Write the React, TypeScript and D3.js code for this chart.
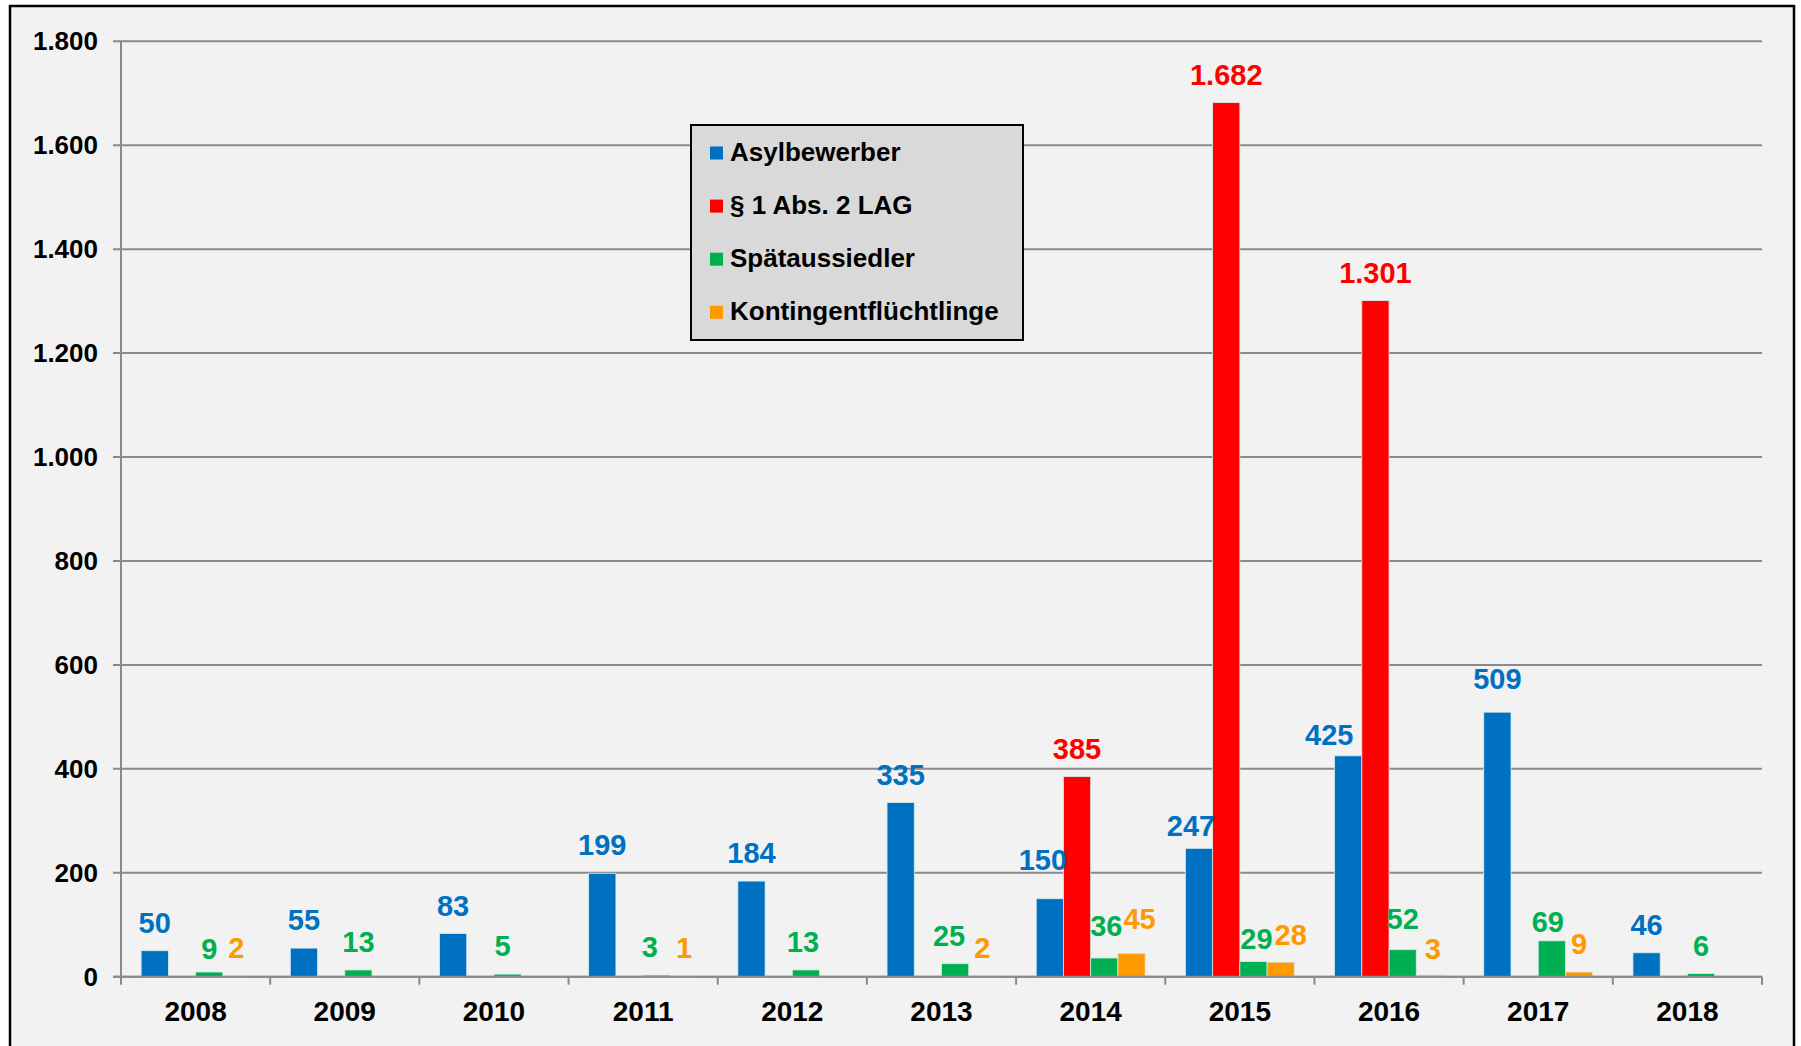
import React from "react";
import * as d3 from "d3";

const years = ["2008", "2009", "2010", "2011", "2012", "2013", "2014", "2015", "2016", "2017", "2018"];
const seriesNames = ["Asylbewerber", "§ 1 Abs. 2 LAG", "Spätaussiedler", "Kontingentflüchtlinge"];
const seriesColors = ["#0070C0", "#FF0000", "#00B050", "#FF9900"];
const asylbewerber = [50, 55, 83, 199, 184, 335, 150, 247, 425, 509, 46];
const lag = [0, 0, 0, 0, 0, 0, 385, 1682, 1301, 0, 0];
const spaetaussiedler = [9, 13, 5, 3, 13, 25, 36, 29, 52, 69, 6];
const kontingent = [2, 0, 0, 1, 0, 2, 45, 28, 3, 9, 0];
const yTicks = [0, 200, 400, 600, 800, 1000, 1200, 1400, 1600, 1800];

// manual nudges of individual data labels (as in the source chart), keyed "yearIndex-seriesIndex"
const labelNudges: Record<string, [number, number]> = {
  "0-2": [0, 5],
  "2-2": [-5, 0],
  "3-2": [-7, 0],
  "4-2": [-3, 0],
  "5-2": [-6, 0],
  "6-0": [-7, -11],
  "6-2": [2, -4],
  "6-3": [8, -6],
  "7-0": [-8, 6],
  "7-2": [3, 5],
  "7-3": [10, 1],
  "8-0": [-19, 7],
  "8-2": [0, -3],
  "8-3": [3, 2],
  "9-0": [0, -5],
  "9-2": [-4, 9],
};

const fmt = (v: number) => d3.format(",")(v).replace(/,/g, ".");
const FONT = "'Liberation Sans', Arial, Helvetica, sans-serif";

export default function App() {
  const W = 1801;
  const H = 1046;
  const left = 121;
  const right = 1762;
  const top = 41.3;
  const bottom = 976.7;
  const series = [asylbewerber, lag, spaetaussiedler, kontingent];

  const x0 = d3.scaleBand<string>().domain(years).range([left, right]).paddingInner(0.27).paddingOuter(0.135);
  const x1 = d3.scaleBand<number>().domain([0, 1, 2, 3]).range([0, x0.bandwidth()]).padding(0);
  const y = d3.scaleLinear().domain([0, 1800]).range([bottom, top]);
  const step = x0.step();
  const gridColor = "#8a8a8a";

  return (
    <svg width={W} height={H} style={{ position: "absolute", left: 0, top: 0, display: "block" }} fontFamily={FONT}>
      <rect x={0} y={0} width={W} height={H} fill="#ffffff" />
      <rect x={10} y={6} width={1784} height={1060} fill="#f2f2f2" stroke="#000" strokeWidth={2.5} />

      {/* gridlines and y ticks */}
      {yTicks.map((t) => (
        <g key={t}>
          <line x1={left - 8} x2={right} y1={y(t)} y2={y(t)} stroke={gridColor} strokeWidth={2} />
          <text x={98} y={y(t)} dy="0.35em" textAnchor="end" fontSize={26} fontWeight="bold" fill="#000">
            {fmt(t)}
          </text>
        </g>
      ))}
      <line x1={left} x2={left} y1={top} y2={bottom + 8} stroke={gridColor} strokeWidth={2} />

      {/* x ticks */}
      {years.map((yr, i) => (
        <line key={"t" + yr} x1={left + (i + 1) * step} x2={left + (i + 1) * step} y1={bottom} y2={bottom + 8} stroke={gridColor} strokeWidth={2} />
      ))}

      {/* bars */}
      {years.map((yr, i) => (
        <g key={yr}>
          {series.map((vals, s) => {
            const v = vals[i];
            if (!v) return null;
            const bx = (x0(yr) as number) + (x1(s) as number);
            return (
              <rect key={s} x={bx} y={y(v)} width={x1.bandwidth()} height={bottom - y(v)} fill={seriesColors[s]} stroke="#d3eaf0" strokeWidth={0.8} />
            );
          })}
        </g>
      ))}

      {/* x axis line on top of bars */}
      <line x1={left - 8} x2={right} y1={bottom} y2={bottom} stroke={gridColor} strokeWidth={2} />

      {/* data labels */}
      {years.map((yr, i) => (
        <g key={"l" + yr}>
          {series.map((vals, s) => {
            const v = vals[i];
            if (!v) return null;
            const cx = (x0(yr) as number) + (x1(s) as number) + x1.bandwidth() / 2;
            const n = labelNudges[`${i}-${s}`] || [0, 0];
            return (
              <text key={s} x={cx + n[0]} y={y(v) - 18 + n[1]} textAnchor="middle" fontSize={29} fontWeight="bold" fill={seriesColors[s]}>
                {fmt(v)}
              </text>
            );
          })}
        </g>
      ))}

      {/* year labels */}
      {years.map((yr) => (
        <text key={"y" + yr} x={(x0(yr) as number) + x0.bandwidth() / 2} y={1021} textAnchor="middle" fontSize={28} fontWeight="bold" fill="#000">
          {yr}
        </text>
      ))}

      {/* legend */}
      <g>
        <rect x={691} y={125} width={332} height={215} fill="#d9d9d9" stroke="#000" strokeWidth={2} />
        {seriesNames.map((name, s) => (
          <g key={name} transform={`translate(710, ${161 + s * 53.1})`}>
            <rect x={0} y={-14.5} width={13} height={13} fill={seriesColors[s]} />
            <text x={20} y={0} fontSize={26} fontWeight="bold" fill="#000">
              {name}
            </text>
          </g>
        ))}
      </g>
    </svg>
  );
}
